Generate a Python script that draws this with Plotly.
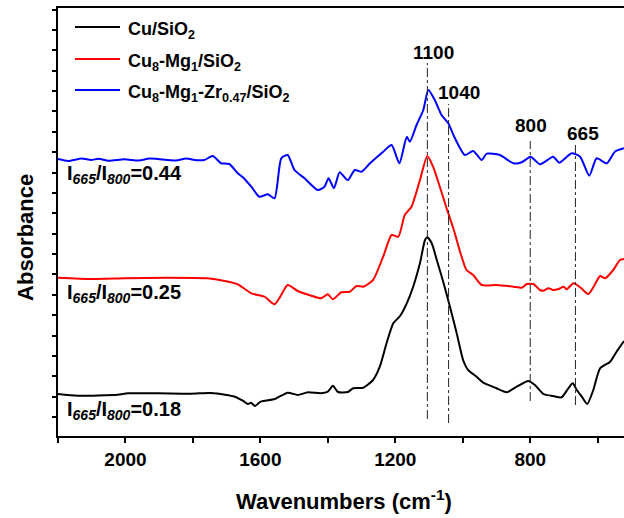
import plotly.graph_objects as go

# ---- data (wavenumber in cm-1, absorbance in arbitrary offset units) ----
cu_wn = [2200, 2142, 2023, 1993, 1904, 1806, 1747, 1705, 1676, 1652, 1637, 1628, 1616, 1599,
         1557, 1519, 1489, 1459, 1421, 1400, 1385, 1370, 1341, 1325, 1295, 1266, 1246, 1226,
         1206, 1186, 1166, 1147, 1127, 1112, 1105, 1092, 1077, 1058, 1038, 1018, 999, 984,
         959, 939, 900, 870, 840, 806, 786, 761, 732, 707, 687, 674, 662, 647, 631, 613,
         593, 563, 544, 522]
cu_abs = [42, 40.3, 41.3, 42.7, 42.7, 42.3, 43, 41.3, 39.3, 35.3, 32, 33.3, 30, 34.3,
          37, 43.3, 41, 43.7, 42.7, 44.3, 50.3, 44, 44, 47.7, 48.3, 56, 69.3, 92.7,
          112.7, 120, 132.7, 149.3, 172.7, 196, 198.7, 192.7, 176, 154.3, 129.3, 102.7, 76, 66,
          59.3, 53.3, 47.7, 43.7, 49.3, 55, 51, 42, 40, 38.7, 47.7, 52.7, 46, 39.3, 32, 46,
          67.7, 74.3, 84.3, 95]

cumg_wn = [2200, 2102, 2003, 1875, 1756, 1706, 1667, 1627, 1588, 1558, 1543, 1519, 1489, 1449,
           1420, 1400, 1385, 1360, 1335, 1315, 1295, 1266, 1236, 1211, 1191, 1172, 1152, 1127,
           1105, 1088, 1068, 1048, 1028, 1008, 989, 969, 944, 900, 850, 825, 810, 791, 771,
           761, 746, 732, 716, 701, 692, 672, 652, 628, 613, 593, 578, 554, 534, 522]
cumg_abs = [158.3, 157, 157.7, 158.3, 157.7, 155, 151.7, 142.7, 139.3, 131.7, 138.3, 151, 145, 140.3,
            137.7, 141.7, 136.7, 143.7, 144.3, 150, 149.3, 156, 179.3, 201, 199.3, 221, 229.3, 256,
            280, 269.3, 249.3, 227.7, 207.7, 184.3, 166, 161, 151, 151, 149.3, 148.3, 152, 152, 146,
            145.3, 147.7, 146, 147, 149.3, 146.7, 152.7, 148.7, 142, 148.7, 160, 157.7, 166, 176, 177]

cumgzr_wn = [2200, 2170, 2130, 2102, 2080, 2050, 2003, 1960, 1930, 1904, 1850, 1820, 1790, 1766,
             1741, 1716, 1692, 1667, 1652, 1627, 1603, 1578, 1558, 1538, 1519, 1499, 1469, 1430,
             1410, 1398, 1382, 1365, 1346, 1340, 1320, 1300, 1275, 1236, 1211, 1188, 1166, 1157,
             1137, 1117, 1102, 1083, 1063, 1043, 1023, 994, 969, 944, 929, 890, 850, 825, 799,
             771, 732, 714, 677, 652, 625, 603, 573, 549, 522]
cumgzr_abs = [277, 275, 277.5, 276, 277.3, 275.3, 276.7, 275.5, 277.5, 277, 275.5, 277.5, 275.8, 276,
              280, 272.7, 272, 262.7, 258.7, 249.3, 239.3, 241.7, 237.7, 277.7, 281, 266, 257.7, 246,
              249.3, 257.7, 247.7, 263.7, 257, 256, 266, 264.3, 272.7, 284.3, 291, 272.7, 299.3, 294.3,
              311, 326, 346, 336, 321, 312.7, 297.7, 281, 285, 276, 282.3, 281, 272.7, 273.7, 279.3,
              271.7, 279.3, 273.3, 282.7, 279.3, 260.3, 277.7, 272.7, 284.3, 287.7]

series_names = ["Cu/SiO<sub>2</sub>",
                "Cu<sub>8</sub>-Mg<sub>1</sub>/SiO<sub>2</sub>",
                "Cu<sub>8</sub>-Mg<sub>1</sub>-Zr<sub>0.47</sub>/SiO<sub>2</sub>"]
series_colors = ["#000000", "#ff0000", "#0000ff"]

# marker lines: position, top, bottom (a.u.), label and label position
peak_pos = [1105, 1042, 800, 666]
peak_top = [373, 332, 295, 291]
peak_bot = [17, 13, 35, 31]
peak_labels = ["1100", "1040", "800", "665"]
peak_label_x = [1088, 1011, 798, 643]
peak_label_y = [384, 344, 311, 303]

ratio_labels = ["I<sub><i>665</i></sub>/I<sub><i>800</i></sub>=0.44",
                "I<sub><i>665</i></sub>/I<sub><i>800</i></sub>=0.25",
                "I<sub><i>665</i></sub>/I<sub><i>800</i></sub>=0.18"]
ratio_label_y = [262, 142.3, 25.5]

FONT = "Liberation Sans, Arial, sans-serif"

fig = go.Figure()
for wn, ab, name, col in zip([cu_wn, cumg_wn, cumgzr_wn], [cu_abs, cumg_abs, cumgzr_abs],
                             series_names, series_colors):
    fig.add_trace(go.Scatter(x=wn, y=ab, mode="lines", name=name,
                             line=dict(color=col, width=2, shape="spline", smoothing=0.6),
                             showlegend=False))

shapes = []
annotations = []
for p, t, b in zip(peak_pos, peak_top, peak_bot):
    shapes.append(dict(type="line", xref="x", yref="y", x0=p, x1=p, y0=b, y1=t,
                       line=dict(color="#222222", width=1, dash="dashdot")))
for lab, lx, ly in zip(peak_labels, peak_label_x, peak_label_y):
    annotations.append(dict(text=lab, x=lx, y=ly, xref="x", yref="y", showarrow=False,
                            xanchor="center", yanchor="middle",
                            font=dict(family=FONT, size=19, color="black", weight="bold")))
for lab, ly in zip(ratio_labels, ratio_label_y):
    annotations.append(dict(text=lab, x=0.013, y=ly, xref="paper", yref="y", showarrow=False,
                            xanchor="left", yanchor="middle",
                            font=dict(family=FONT, size=20, color="black", weight="bold")))

# manual legend
legend_y = [409, 377, 346]
for name, col, ly in zip(series_names, series_colors, legend_y):
    shapes.append(dict(type="line", xref="paper", yref="y", x0=0.030, x1=0.1095, y0=ly, y1=ly,
                       line=dict(color=col, width=2)))
    annotations.append(dict(text=name, x=0.121, y=ly - 3, xref="paper", yref="y", showarrow=False,
                            xanchor="left", yanchor="middle",
                            font=dict(family=FONT, size=18, color="black", weight="bold")))

# axis titles
annotations.append(dict(text="Wavenumbers (cm<sup>-1</sup>)", x=0.506, y=-0.15, xref="paper", yref="paper",
                        showarrow=False, xanchor="center", yanchor="middle",
                        font=dict(family=FONT, size=22, color="black", weight="bold")))
annotations.append(dict(text="Absorbance", x=-0.0574, y=0.464, xref="paper", yref="paper",
                        showarrow=False, xanchor="center", yanchor="middle", textangle=-90,
                        font=dict(family=FONT, size=22, color="black", weight="bold")))

fig.update_layout(
    width=624, height=518,
    margin=dict(l=58, r=0, t=8, b=82),
    paper_bgcolor="white", plot_bgcolor="white",
    shapes=shapes, annotations=annotations,
    showlegend=False,
    xaxis=dict(range=[2200, 522], tick0=0, dtick=400,
               ticks="outside", ticklen=5, tickwidth=1.5, tickcolor="black",
               minor=dict(tick0=0, dtick=200, ticks="outside", ticklen=5, tickwidth=1.5,
                          tickcolor="black", showgrid=False),
               showline=True, linecolor="black", linewidth=2, mirror=True,
               showgrid=False, zeroline=False,
               tickfont=dict(family=FONT, size=19, color="black", weight="bold")),
    yaxis=dict(range=[0, 428], tick0=19, dtick=20.37, showticklabels=False,
               ticks="outside", ticklen=4, tickwidth=1.5, tickcolor="black",
               showline=True, linecolor="black", linewidth=2, mirror=False,
               showgrid=False, zeroline=False),
)

fig.write_html("out.html")
